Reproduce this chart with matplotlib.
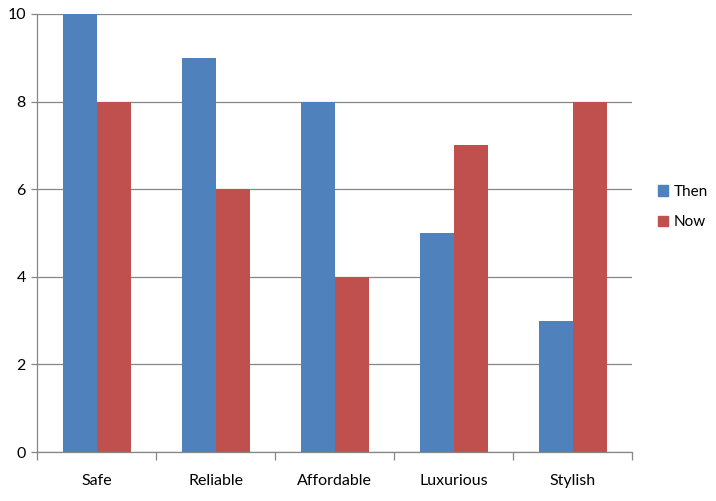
import matplotlib
matplotlib.use("Agg")
import matplotlib.pyplot as plt
import numpy as np
from matplotlib.patches import Patch

categories = ["Safe", "Reliable", "Affordable", "Luxurious", "Stylish"]
then_vals = [10, 9, 8, 5, 3]
now_vals = [8, 6, 4, 7, 8]

plt.rcParams['font.family'] = ['Lato', 'DejaVu Sans']

fig = plt.figure(figsize=(7.16, 5.01), dpi=100)
ax = fig.add_axes([37 / 716, 1 - 452 / 501, (632 - 37) / 716, (452 - 14) / 501])

x = np.arange(len(categories))
w = 34 / 119
ax.bar(x - w / 2, then_vals, w, color="#4F81BD", label="Then", zorder=2)
ax.bar(x + w / 2, now_vals, w, color="#C0504D", label="Now", zorder=2)

ax.set_xlim(-0.5, len(categories) - 0.5)
ax.set_ylim(0, 10)
ax.set_yticks(range(0, 11, 2))
ax.yaxis.grid(True, color="#868686", linewidth=0.9, zorder=0)

ax.set_xticks(np.arange(-0.5, len(categories), 1))
ax.set_xticklabels([])
ax.set_xticks(x, minor=True)
ax.set_xticklabels(categories, minor=True)
ax.tick_params(axis="x", which="minor", length=0, pad=16, labelsize=11.5)
ax.tick_params(axis="x", which="major", length=6, color="#868686", width=0.9)
ax.tick_params(axis="y", length=4, color="#868686", width=0.9, labelsize=11.5, pad=4)

for s in ["top", "right"]:
    ax.spines[s].set_visible(False)
for s in ["left", "bottom"]:
    ax.spines[s].set_color("#868686")
    ax.spines[s].set_linewidth(0.9)

handles = [Patch(color="#4F81BD", label="Then"), Patch(color="#C0504D", label="Now")]
fig.legend(handles=handles, loc="center left", bbox_to_anchor=(644 / 716, 1 - 207 / 501),
           frameon=False, fontsize=11, handlelength=0.7, handleheight=0.7,
           handletextpad=0.35, labelspacing=1.1)

fig.savefig("out.png", dpi=100)
